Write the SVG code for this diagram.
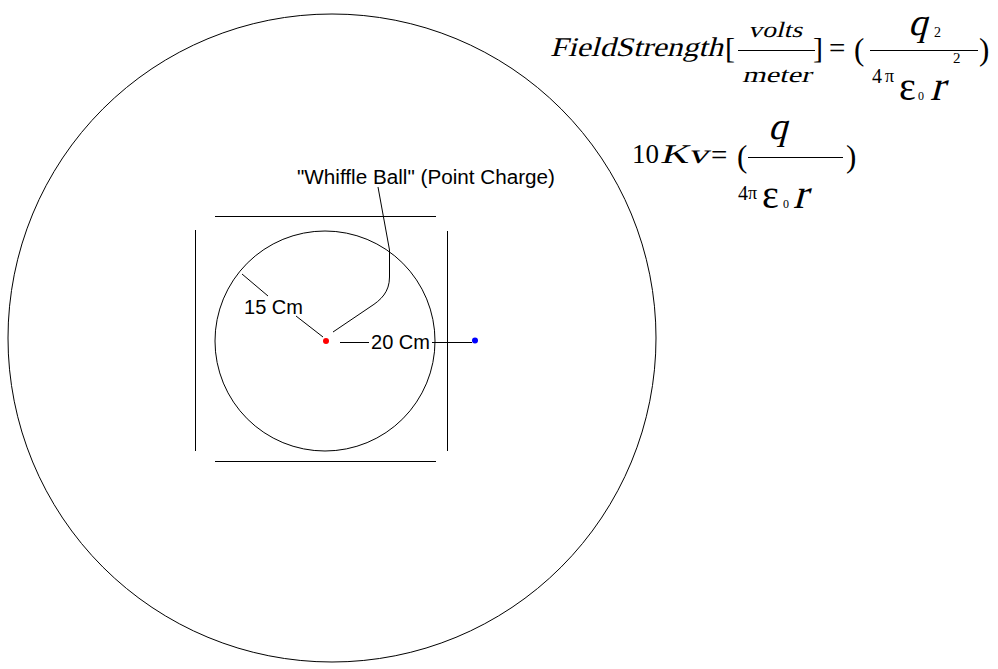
<svg xmlns="http://www.w3.org/2000/svg" width="998" height="669" viewBox="0 0 998 669">
<style>
.ln{stroke:#000;stroke-width:1;fill:none}
.lab{font-family:"Liberation Sans",Arial,sans-serif;font-size:19.5px;fill:#000}
.m{font-family:"Liberation Serif","Times New Roman",serif;fill:#000;font-style:normal}
</style>
<rect width="998" height="669" fill="#fff"/>
<g id="outer-sphere"><circle class="ln" cx="332" cy="338" r="324"/></g>
<g id="cage">
<line class="ln" x1="215" y1="216.5" x2="436" y2="216.5"/>
<line class="ln" x1="215" y1="461.5" x2="436" y2="461.5"/>
<line class="ln" x1="195.5" y1="230" x2="195.5" y2="451"/>
<line class="ln" x1="447.5" y1="231" x2="447.5" y2="451"/>
</g>
<g id="inner-sphere"><circle class="ln" cx="325" cy="341" r="110"/></g>
<g id="point-charge"><circle cx="326" cy="341" r="3" fill="#ff0000"/></g>
<g id="test-point"><circle cx="475" cy="340.5" r="3" fill="#0000ff"/></g>
<g id="connectors">
<line class="ln" x1="242" y1="274" x2="268" y2="296"/>
<line class="ln" x1="296" y1="316" x2="323" y2="337"/>
<path class="ln" d="M378,187 L389.5,250 L389.5,277 C389.5,292 381,300 370,307 L333,332"/>
<line class="ln" x1="340" y1="342.5" x2="369" y2="342.5"/>
<line class="ln" x1="432" y1="342.5" x2="472" y2="342.5"/>
</g>
<g id="labels">
<text class="lab" x="297" y="183.5" textLength="258" lengthAdjust="spacingAndGlyphs">"Whiffle Ball" (Point Charge)</text>
<text class="lab" x="244" y="314" textLength="59" lengthAdjust="spacingAndGlyphs">15 Cm</text>
<text class="lab" x="371" y="349" textLength="59" lengthAdjust="spacingAndGlyphs">20 Cm</text>
</g>
<g id="equation-1">
<text class="m" transform="translate(550,56) skewX(-15)" font-size="27" textLength="173" lengthAdjust="spacingAndGlyphs">FieldStrength</text>
<text class="m" x="725" y="58" font-size="30">[</text>
<text class="m" transform="translate(748,37) skewX(-15)" font-size="22" textLength="54" lengthAdjust="spacingAndGlyphs">volts</text>
<line class="ln" x1="738" y1="50.5" x2="815" y2="50.5"/>
<text class="m" transform="translate(742,82) skewX(-15)" font-size="22" textLength="69" lengthAdjust="spacingAndGlyphs">meter</text>
<text class="m" x="813" y="58" font-size="30">]</text>
<text class="m" x="829" y="58" font-size="29">=</text>
<text class="m" x="854" y="60" font-size="31">(</text>
<text class="m" transform="translate(908,35) skewX(-15)" font-size="38">q</text>
<text class="m" x="934" y="37" font-size="14">2</text>
<line class="ln" x1="870" y1="50.5" x2="978" y2="50.5"/>
<text class="m" x="872" y="83" font-size="20">4</text>
<text class="m" x="885" y="82" font-size="18">π</text>
<text class="m" x="899" y="100" font-size="40">ε</text>
<text class="m" x="918" y="100" font-size="12">0</text>
<text class="m" transform="translate(930,100) skewX(-15)" font-size="42">r</text>
<text class="m" x="953" y="63" font-size="15">2</text>
<text class="m" x="979" y="60" font-size="31">)</text>
</g>
<g id="equation-2">
<text class="m" x="632" y="163" font-size="27">10</text>
<text class="m" transform="translate(660,163) skewX(-15)" font-size="27" textLength="48" lengthAdjust="spacingAndGlyphs">Kv</text>
<text class="m" x="711" y="165" font-size="29">=</text>
<text class="m" x="737" y="167" font-size="31">(</text>
<text class="m" transform="translate(768,139) skewX(-15)" font-size="38">q</text>
<line class="ln" x1="748" y1="157.5" x2="843" y2="157.5"/>
<text class="m" x="738" y="200" font-size="20">4</text>
<text class="m" x="748" y="199" font-size="18">π</text>
<text class="m" x="762" y="208" font-size="40">ε</text>
<text class="m" x="783" y="208" font-size="12">0</text>
<text class="m" transform="translate(793,208) skewX(-15)" font-size="42">r</text>
<text class="m" x="846" y="167" font-size="31">)</text>
</g>
</svg>
